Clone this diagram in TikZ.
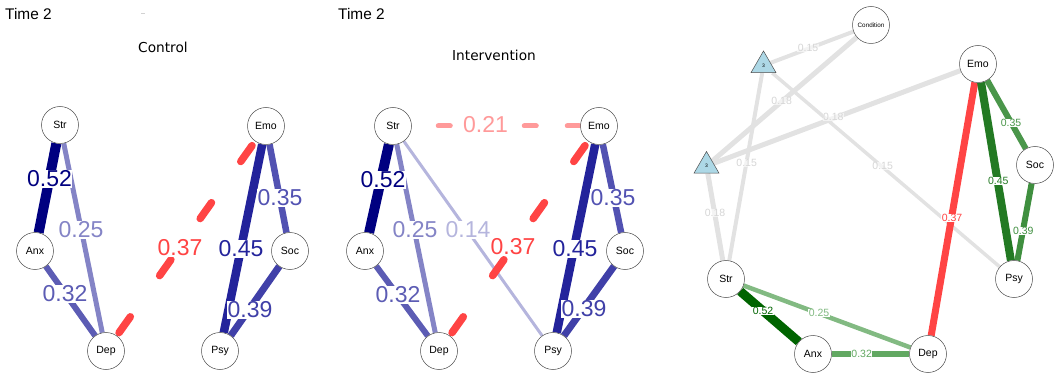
\documentclass[tikz,border=0pt]{standalone}
\usepackage{fontspec}
\setmainfont{Liberation Sans}
\newfontfamily\titlefont{DejaVu Sans}
\usetikzlibrary{shapes.geometric}
\pgfdeclarelayer{edges}
\pgfdeclarelayer{labels}
\pgfsetlayers{edges,labels,main}
\definecolor{cnavy}{HTML}{000080}
\definecolor{cb45}{HTML}{23239B}
\definecolor{cb39}{HTML}{4040A8}
\definecolor{cb35}{HTML}{5252B2}
\definecolor{cb32}{HTML}{5C5CB4}
\definecolor{cb25}{HTML}{8484C6}
\definecolor{cb14}{HTML}{B5B5DD}
\definecolor{cred}{HTML}{FF4444}
\definecolor{cpink}{HTML}{FF9A9A}
\definecolor{cg52}{HTML}{006400}
\definecolor{cg45}{HTML}{237A23}
\definecolor{cg39}{HTML}{3F8F3F}
\definecolor{cg35}{HTML}{4A964A}
\definecolor{cg32}{HTML}{62A862}
\definecolor{cg25}{HTML}{82BA82}
\definecolor{cgrey}{HTML}{E2E2E2}
\definecolor{cgtxt}{HTML}{D6D6D6}
\definecolor{clblue}{HTML}{ADD8E6}
\tikzset{
  nd/.style={circle, draw=black!70, fill=white, minimum size=37pt, inner sep=0pt, line width=0.5pt, font=\fontsize{10.5}{12}\selectfont},
  cnd/.style={nd, font=\fontsize{6.3}{7}\selectfont},
  tri/.style={regular polygon, regular polygon sides=3, draw=black!70, fill=clblue, minimum size=29pt, inner sep=0pt, line width=0.5pt, font=\fontsize{5}{6}\selectfont},
  lab/.style={fill=white, inner sep=0.5pt, font=\fontsize{23}{26}\selectfont},
  slab/.style={fill=white, inner sep=0.4pt, font=\fontsize{10.5}{12}\selectfont},
  glab/.style={fill=white, fill opacity=0.6, text opacity=1, inner sep=0.4pt, text=cgtxt, font=\fontsize{10.5}{12}\selectfont},
  reddash/.style={draw=cred, line width=7.5pt, line cap=round, dash pattern=on 19.5pt off 50.5pt, dash phase=66.25pt},
  pinkdash/.style={draw=cpink, line width=5pt, line cap=round, dash pattern=on 12pt off 31pt, dash phase=16.5pt},
  ttl/.style={font=\titlefont\fontsize{13.7}{16}\selectfont, inner sep=0pt},
  tm/.style={font=\fontsize{15.4}{18}\selectfont, inner sep=0pt, anchor=west}
}
\begin{document}
\begin{tikzpicture}[x=1pt,y=-1pt]
\useasboundingbox (0,0) rectangle (1055,374);
% titles
\node[tm] (t1) at (5,14) {Time 2};
\node[tm] (t2) at (338,14) {Time 2};
\node[ttl] (ct) at (163,47.5) {Control};
\node[ttl] (it) at (494,55.5) {Intervention};
\draw[gray!35, line width=0.7pt] (141,13.3) -- (145,13.3);

% ---------- Panel 1 ----------
\node[nd] (str1) at (60,125) {Str};
\node[nd] (anx1) at (35,251) {Anx};
\node[nd] (dep1) at (106,351) {Dep};
\node[nd] (psy1) at (220,351) {Psy};
\node[nd] (emo1) at (266,126) {Emo};
\node[nd] (soc1) at (290,251) {Soc};
\begin{pgfonlayer}{edges}
\draw[cnavy, line width=10pt] (str1) -- (anx1);
\draw[cb25, line width=5pt] (str1) -- (dep1);
\draw[cb32, line width=6pt] (anx1) -- (dep1);
\draw[cb45, line width=8.5pt] (emo1) -- (psy1);
\draw[cb35, line width=6.5pt] (emo1) -- (soc1);
\draw[cb39, line width=7pt] (soc1) -- (psy1);
\draw[reddash] (dep1) -- (emo1);
\end{pgfonlayer}
\begin{pgfonlayer}{labels}
\node[lab, text=cnavy] (l1a) at (49.5,179) {0.52};
\node[lab, text=cb25] (l1b) at (81,230) {0.25};
\node[lab, text=cb32] (l1c) at (65,294) {0.32};
\node[lab, text=cred] (l1d) at (180,248) {0.37};
\node[lab, text=cb45] (l1e) at (241,249) {0.45};
\node[lab, text=cb35] (l1f) at (280,198) {0.35};
\node[lab, text=cb39] (l1g) at (250,310) {0.39};
\end{pgfonlayer}

% ---------- Panel 2 ----------
\node[nd] (str2) at (393,126) {Str};
\node[nd] (anx2) at (365,251) {Anx};
\node[nd] (dep2) at (439,351) {Dep};
\node[nd] (psy2) at (553,351) {Psy};
\node[nd] (emo2) at (599,126) {Emo};
\node[nd] (soc2) at (625,251) {Soc};
\begin{pgfonlayer}{edges}
\draw[cnavy, line width=10pt] (str2) -- (anx2);
\draw[cb25, line width=5pt] (str2) -- (dep2);
\draw[cb32, line width=6pt] (anx2) -- (dep2);
\draw[cb14, line width=3pt] (str2) -- (psy2);
\draw[cb45, line width=8.5pt] (emo2) -- (psy2);
\draw[cb35, line width=6.5pt] (emo2) -- (soc2);
\draw[cb39, line width=7pt] (soc2) -- (psy2);
\draw[reddash] (dep2) -- (emo2);
\draw[pinkdash] (str2) -- (emo2);
\end{pgfonlayer}
\begin{pgfonlayer}{labels}
\node[lab, text=cnavy] (l2a) at (383,180) {0.52};
\node[lab, text=cb25] (l2b) at (415,230) {0.25};
\node[lab, text=cb14] (l2h) at (468,230) {0.14};
\node[lab, text=cb32] (l2c) at (398,295) {0.32};
\node[lab, text=cred] (l2d) at (513,247) {0.37};
\node[lab, text=cb45] (l2e) at (575,249) {0.45};
\node[lab, text=cb35] (l2f) at (613,198) {0.35};
\node[lab, text=cb39] (l2g) at (584,309) {0.39};
\node[lab, text=cpink] (l2i) at (485.5,125) {0.21};
\end{pgfonlayer}

% ---------- Panel 3 ----------
\node[cnd] (cond) at (871,25) {Condition};
\node[tri] (ta) at (763.5,65.5) {3};
\node[tri] (tb) at (706.5,166) {3};
\node[nd] (emo3) at (978,64) {Emo};
\node[nd] (soc3) at (1035,165) {Soc};
\node[nd] (str3) at (726,279) {Str};
\node[nd] (anx3) at (813,354) {Anx};
\node[nd] (dep3) at (928,354) {Dep};
\node[nd] (psy3) at (1014,279) {Psy};
\begin{pgfonlayer}{edges}
\draw[cgrey, line width=4pt] (ta) -- (cond);
\draw[cgrey, line width=5pt] (tb) -- (cond);
\draw[cgrey, line width=5pt] (tb) -- (emo3);
\draw[cgrey, line width=4pt] (ta) -- (str3);
\draw[cgrey, line width=5pt] (tb) -- (str3);
\draw[cgrey, line width=3.5pt] (ta) -- (psy3);
\draw[cred, line width=7pt] (emo3) -- (dep3);
\draw[cg45, line width=8pt] (emo3) -- (psy3);
\draw[cg35, line width=6pt] (emo3) -- (soc3);
\draw[cg39, line width=6pt] (soc3) -- (psy3);
\draw[cg52, line width=9pt] (str3) -- (anx3);
\draw[cg25, line width=4.5pt] (str3) -- (dep3);
\draw[cg32, line width=5.5pt] (anx3) -- (dep3);
\end{pgfonlayer}
\begin{pgfonlayer}{labels}
\node[glab] (g1) at (808,48) {0.15};
\node[glab] (g2) at (781.7,100.7) {0.18};
\node[glab] (g3) at (833.3,117.3) {0.18};
\node[glab] (g4) at (746.7,163.3) {0.15};
\node[glab] (g5) at (882.7,165.7) {0.15};
\node[glab] (g6) at (715,213.3) {0.18};
\node[slab, text=cg35] (g7) at (1011,123.3) {0.35};
\node[slab, text=cg45] (g8) at (998.3,181) {0.45};
\node[slab, text=cred] (g9) at (952,218) {0.37};
\node[slab, text=cg39] (g10) at (1023.3,231) {0.39};
\node[slab, text=cg52] (g11) at (763,311) {0.52};
\node[slab, text=cg25] (g12) at (819,313) {0.25};
\node[slab, text=cg32] (g13) at (861.7,353.7) {0.32};
\end{pgfonlayer}
\end{tikzpicture}
\end{document}
